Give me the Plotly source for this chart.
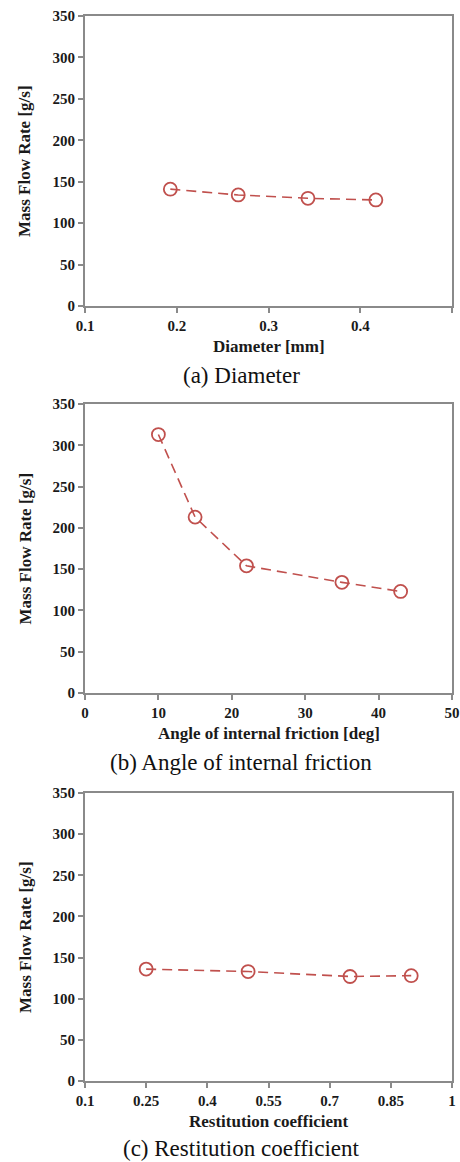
import plotly.graph_objects as go

# ---- data ----
diameter_mm = [0.193, 0.267, 0.343, 0.417]
flow_diameter = [141, 134, 130, 128]

friction_deg = [10, 15, 22, 35, 43]
flow_friction = [313, 213, 154, 134, 123]

restitution = [0.25, 0.5, 0.75, 0.9]
flow_restitution = [136, 133, 127, 128]

y_label = "Mass Flow Rate [g/s]"
x_labels = ["Diameter [mm]", "Angle of internal friction [deg]", "Restitution coefficient"]
captions = ["(a) Diameter", "(b) Angle of internal friction", "(c) Restitution coefficient"]

W, H = 460, 1162
RED = "#C0504D"
AX = "#8a8a8a"
SERIF = "Liberation Serif"

# pixel boxes (top, bottom) of each plot area
boxes = [(16, 306), (404, 693), (793, 1081)]
caption_y = [376, 762, 1148]
x_left, x_right = 85, 452

fig = go.Figure()
series = [(diameter_mm, flow_diameter), (friction_deg, flow_friction), (restitution, flow_restitution)]
xranges = [[0.1, 0.5], [0, 50], [0.1, 1.0]]
xticks = [dict(tick0=0.1, dtick=0.1), dict(tick0=0, dtick=10), dict(tick0=0.1, dtick=0.15)]

annotations = []
for i, ((xs, ys), (top, bot)) in enumerate(zip(series, boxes)):
    n = "" if i == 0 else str(i + 1)
    fig.add_trace(go.Scatter(
        x=xs, y=ys, mode="lines+markers",
        xaxis="x" + n, yaxis="y" + n,
        line=dict(color=RED, width=1.6, dash="10px,6px"),
        marker=dict(symbol="circle-open", size=13, color=RED, line=dict(width=1.8, color=RED)),
        showlegend=False,
    ))
    ydom = [1 - bot / H, 1 - top / H]
    xdom = [x_left / W, x_right / W]
    fig.layout["xaxis" + n] = dict(
        domain=xdom, anchor="y" + n, range=xranges[i], tickmode="linear", **xticks[i],
        automargin=False,
        showgrid=False, zeroline=False, showline=True, linecolor=AX, linewidth=1.8,
        mirror=True, ticks="outside", ticklen=5, tickcolor=AX, tickwidth=1.5,
        tickfont=dict(family=SERIF, size=15, color="#1a1a1a", weight="bold"),
    )
    fig.layout["yaxis" + n] = dict(
        domain=ydom, anchor="x" + n, range=[0, 350], tickmode="linear", tick0=0, dtick=50,
        automargin=False,
        showgrid=False, zeroline=False, showline=True, linecolor=AX, linewidth=1.8,
        mirror=True, ticks="outside", ticklen=5, tickcolor=AX, tickwidth=1.5,
        tickfont=dict(family=SERIF, size=15, color="#1a1a1a", weight="bold"),
    )
    # axis titles
    annotations.append(dict(
        text=x_labels[i], xref="paper", yref="paper",
        x=(x_left + x_right) / 2 / W, y=1 - (bot + 40) / H,
        showarrow=False, xanchor="center", yanchor="middle",
        font=dict(family=SERIF, size=17, color="#1a1a1a", weight="bold"),
    ))
    annotations.append(dict(
        text=y_label, xref="paper", yref="paper",
        x=25 / W, y=1 - (top + bot) / 2 / H, textangle=-90,
        showarrow=False, xanchor="center", yanchor="middle",
        font=dict(family=SERIF, size=17, color="#1a1a1a", weight="bold"),
    ))
    annotations.append(dict(
        text=captions[i], xref="paper", yref="paper",
        x=241 / W, y=1 - caption_y[i] / H,
        showarrow=False, xanchor="center", yanchor="middle",
        font=dict(family=SERIF, size=23, color="#111"),
    ))

fig.update_layout(
    width=W, height=H, margin=dict(l=0, r=0, t=0, b=0, autoexpand=False),
    paper_bgcolor="white", plot_bgcolor="white",
    annotations=annotations,
)
fig.write_html("out.html")
